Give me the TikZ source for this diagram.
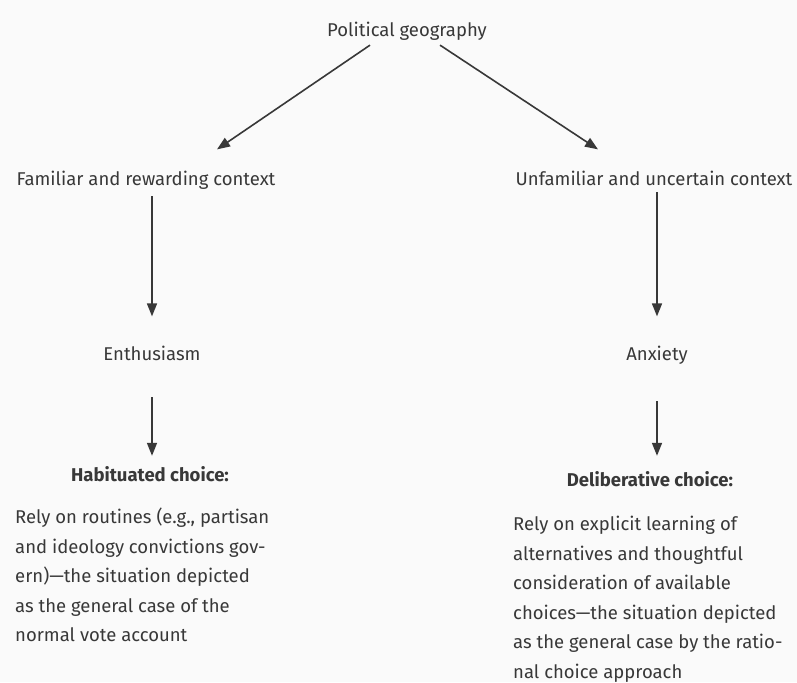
\documentclass[tikz,border=0pt]{standalone}
\usepackage{fontspec}
\setmainfont{Fira Sans}
\usepackage{tikz}
\usetikzlibrary{arrows.meta, positioning, calc}

\definecolor{ink}{HTML}{383838}

\begin{document}
\begin{tikzpicture}[x=1pt, y=-1pt,
    lbl/.style={inner sep=0pt, anchor=base, text=ink, font=\fontsize{18.5}{29.5}\selectfont},
    head/.style={lbl, font=\fontsize{18.5}{29.5}\selectfont\bfseries},
    body/.style={inner sep=0pt, anchor=north west, align=left, text=ink, font=\fontsize{18.5}{29.5}\selectfont},
    arr/.style={draw=ink, line width=1.6pt, -{Triangle[length=13pt, width=10pt]}}]

    % Page
    \useasboundingbox (0,0) rectangle (797,682);
    \fill[black!2] (0,0) rectangle (797,682);

    % Top
    \node[lbl] (pol) at (407,37) {Political geography};

    % Contexts
    \node[lbl] (fam) at (146,185) {Familiar and rewarding context};
    \node[lbl] (unf) at (654,185) {Unfamiliar and uncertain context};

    % Emotions
    \node[lbl] (ent) at (152,360) {Enthusiasm};
    \node[lbl] (anx) at (657,360) {Anxiety};

    % Choices
    \node[head] (hab) at (150,481) {Habituated choice:};
    \node[head] (delib) at (650,486) {Deliberative choice:};
    \node[body] (habtext) at (15,508) {Rely on routines (e.g., partisan\\
        and ideology convictions gov-\\
        ern)---the situation depicted\\
        as the general case of the\\
        normal vote account};
    \node[body] (delibtext) at (513,516) {Rely on explicit learning of\\
        alternatives and thoughtful\\
        consideration of available\\
        choices---the situation depicted\\
        as the general case by the ratio-\\
        nal choice approach};

    % Arrows
    \draw[arr] ($(pol.south)+(-37,4)$) -- ($(fam.north)+(71,-21)$);
    \draw[arr] ($(pol.south)+(33,4)$) -- ($(unf.north)+(-56,-21)$);
    \draw[arr] ($(fam.south -| ent.north)+(0,7)$) -- ($(ent.north)+(0,-29)$);
    \draw[arr] ($(unf.south -| anx.north)+(0,7)$) -- ($(anx.north)+(0,-29)$);
    \draw[arr] ($(ent.south)+(0,37)$) -- ($(ent.south |- hab.north)+(0,-10)$);
    \draw[arr] ($(anx.south)+(0,37)$) -- ($(anx.south |- delib.north)+(0,-15)$);
\end{tikzpicture}
\end{document}
